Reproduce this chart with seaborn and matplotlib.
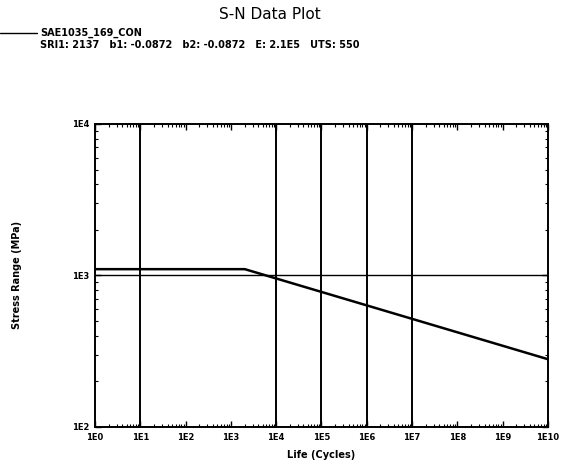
import numpy as np
import pandas as pd
import matplotlib
matplotlib.use('Agg')
import matplotlib.pyplot as plt
import matplotlib.ticker as mticker
import seaborn as sns

# ---------- Data ----------
life_cycles = [1, 2030, 1e10]          # knee of the S-N curve near 2E3 cycles
stress_range = [1100, 1100, 280]       # MPa, flat cap then slope b = -0.0872
ref_stress = 1000                      # horizontal reference line
marker_lives = [1e1, 1e4, 1e5, 1e6, 1e7]

x_ticks = [10.0 ** k for k in range(0, 11)]
x_labels = ['1E%d' % k for k in range(0, 11)]
y_ticks = [1e2, 1e3, 1e4]
y_labels = ['1E2', '1E3', '1E4']

curve = pd.DataFrame({'life': life_cycles, 'stress': stress_range})

# ---------- Plot ----------
sns.set_style('ticks')
plt.rcParams['font.family'] = ['DejaVu Sans']
plt.rcParams['text.color'] = 'black'
plt.rcParams['axes.labelcolor'] = 'black'
plt.rcParams['xtick.color'] = 'black'
plt.rcParams['ytick.color'] = 'black'

fig = plt.figure(figsize=(5.69, 4.67), dpi=100)
ax = fig.add_axes([0.167, 0.0857, 0.796, 0.649])

for n in marker_lives:
    ax.axvline(n, color='black', lw=1.4)
ax.axhline(ref_stress, color='black', lw=1.0)
sns.lineplot(data=curve, x='life', y='stress', ax=ax, color='black', lw=1.8)

ax.set_xscale('log')
ax.set_yscale('log')
ax.set_xlim(1, 1e10)
ax.set_ylim(1e2, 1e4)

ax.set_xticks(x_ticks)
ax.set_xticklabels(x_labels)
ax.set_yticks(y_ticks)
ax.set_yticklabels(y_labels)
ax.xaxis.set_minor_locator(mticker.LogLocator(base=10, subs=np.arange(2, 10), numticks=20))
ax.yaxis.set_minor_locator(mticker.LogLocator(base=10, subs=np.arange(2, 10), numticks=20))
ax.xaxis.set_minor_formatter(mticker.NullFormatter())
ax.yaxis.set_minor_formatter(mticker.NullFormatter())
ax.tick_params(which='both', direction='in', top=True, right=True, color='black')
ax.tick_params(which='major', length=4, width=1, labelsize=6, pad=4)
ax.tick_params(which='minor', length=2.5, width=0.8)
for lab in ax.get_xticklabels() + ax.get_yticklabels():
    lab.set_fontweight('bold')

for side in ['top', 'bottom', 'left', 'right']:
    ax.spines[side].set_linewidth(1.4)
    ax.spines[side].set_color('black')

ax.set_xlabel('Life (Cycles)', fontsize=7, fontweight='bold', labelpad=6)
ax.set_ylabel('Stress Range (MPa)', fontsize=7, fontweight='bold', labelpad=36)

fig.text(0.475, 0.968, 'S-N Data Plot', ha='center', va='center', fontsize=11)
fig.add_artist(plt.Line2D([0.0, 0.065], [0.929, 0.929], color='black', lw=1.0))
fig.text(0.071, 0.929, 'SAE1035_169_CON', ha='left', va='center',
         fontsize=7, fontweight='bold')
fig.text(0.071, 0.903, 'SRI1: 2137   b1: -0.0872   b2: -0.0872   E: 2.1E5   UTS: 550',
         ha='left', va='center', fontsize=7, fontweight='bold')

fig.savefig('out.png', dpi=100, facecolor='white')
